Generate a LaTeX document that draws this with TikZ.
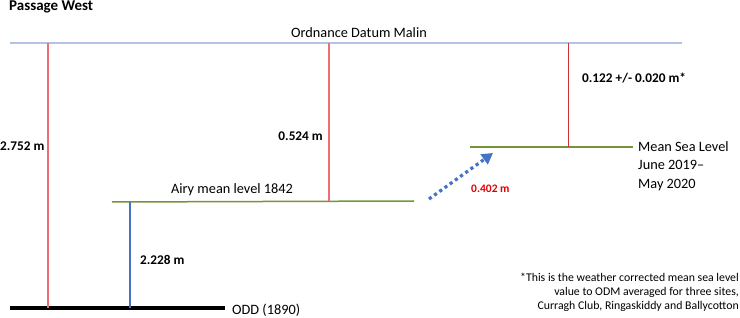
\documentclass[tikz,border=0pt]{standalone}
\usepackage{fontspec}
\setmainfont{Carlito}
\usetikzlibrary{arrows.meta}
\definecolor{odmblue}{HTML}{B4C3E4}
\definecolor{lightred}{HTML}{EE6E72}
\definecolor{darkred}{HTML}{D0303A}
\definecolor{levelgreen}{HTML}{77933C}
\definecolor{barblue}{HTML}{4472C4}
\definecolor{labelred}{HTML}{E00000}
\begin{document}
\begin{tikzpicture}[x=1pt,y=-1pt,
  lbl/.style={inner sep=0pt, font=\fontsize{14.3}{17}\selectfont},
  blbl/.style={inner sep=0pt, font=\fontsize{13.3}{15}\selectfont\bfseries},
  odmline/.style={draw=odmblue, line width=1.6pt},
  redv/.style={draw=lightred, line width=1.2pt},
  greenl/.style={draw=levelgreen, line width=1.5pt},
]
\useasboundingbox (0,0) rectangle (740,318);
% title
\node[inner sep=0pt, anchor=west, font=\fontsize{15}{17}\selectfont\bfseries] (title) at (9,7) {Passage West};
% ODM line
\coordinate (odmL) at (10,43);
\coordinate (odmR) at (682,43);
\draw[odmline] (odmL) -- (odmR);
\node[lbl] (odmlbl) at (359,33) {Ordnance Datum Malin};
% ODD line
\coordinate (oddL) at (10,308);
\coordinate (oddR) at (225,308);
\draw[line width=4pt] (oddL) -- (oddR);
\node[lbl, anchor=west] (oddlbl) at (232,310) {ODD (1890)};
% Airy line
\coordinate (airyL) at (112,202);
\coordinate (airyR) at (414,201);
\draw[greenl] (airyL) -- (airyR);
\node[lbl] (airylbl) at (232,190) {Airy mean level 1842};
% MSL line
\coordinate (mslL) at (470,147);
\coordinate (mslR) at (633,147);
\draw[greenl] (mslL) -- (mslR);
\node[lbl, anchor=north west, align=left, font=\fontsize{14.3}{18.5}\selectfont] (msllbl) at (638,141) {Mean Sea Level\\June 2019--\\May 2020};
% red verticals
\coordinate (r1t) at (48,43);
\coordinate (r1b) at (48,308);
\draw[redv] (r1t) -- (r1b);
\coordinate (r2t) at (329,43);
\coordinate (r2b) at (329,201);
\draw[redv] (r2t) -- (r2b);
\coordinate (r3t) at (568,43);
\coordinate (r3b) at (568,147);
\draw[draw=darkred, line width=0.9pt] (r3t) -- (r3b);
% blue vertical
\coordinate (bt) at (130,202);
\coordinate (bb) at (130,308);
\draw[draw=barblue, line width=2.6pt] (bt) -- (bb);
% dotted arrow
\coordinate (as) at (429,199);
\coordinate (ae) at (493,153);
\draw[draw=barblue, line width=3.2pt, dash pattern=on 3.2pt off 3.2pt, -{Triangle[length=11pt,width=12pt]}] (as) -- (ae);
% labels
\node[blbl, anchor=west] (l2752) at (0,146) {2.752 m};
\node[blbl, anchor=east] (l0524) at (323,136) {0.524 m};
\node[blbl, anchor=west] (l0122) at (582,78) {0.122 +/- 0.020 m*};
\node[blbl, anchor=west] (l2228) at (140,260) {2.228 m};
\node[blbl, anchor=west, text=labelred, font=\fontsize{11.5}{13}\selectfont\bfseries] (l0402) at (471,189) {0.402 m};
% footnote
\node[inner sep=0pt, anchor=north east, align=right, font=\fontsize{11.8}{14.2}\selectfont] (note) at (739,273) {*This is the weather corrected mean sea level\\value to ODM averaged for three sites,\\Curragh Club, Ringaskiddy and Ballycotton};
\end{tikzpicture}
\end{document}
